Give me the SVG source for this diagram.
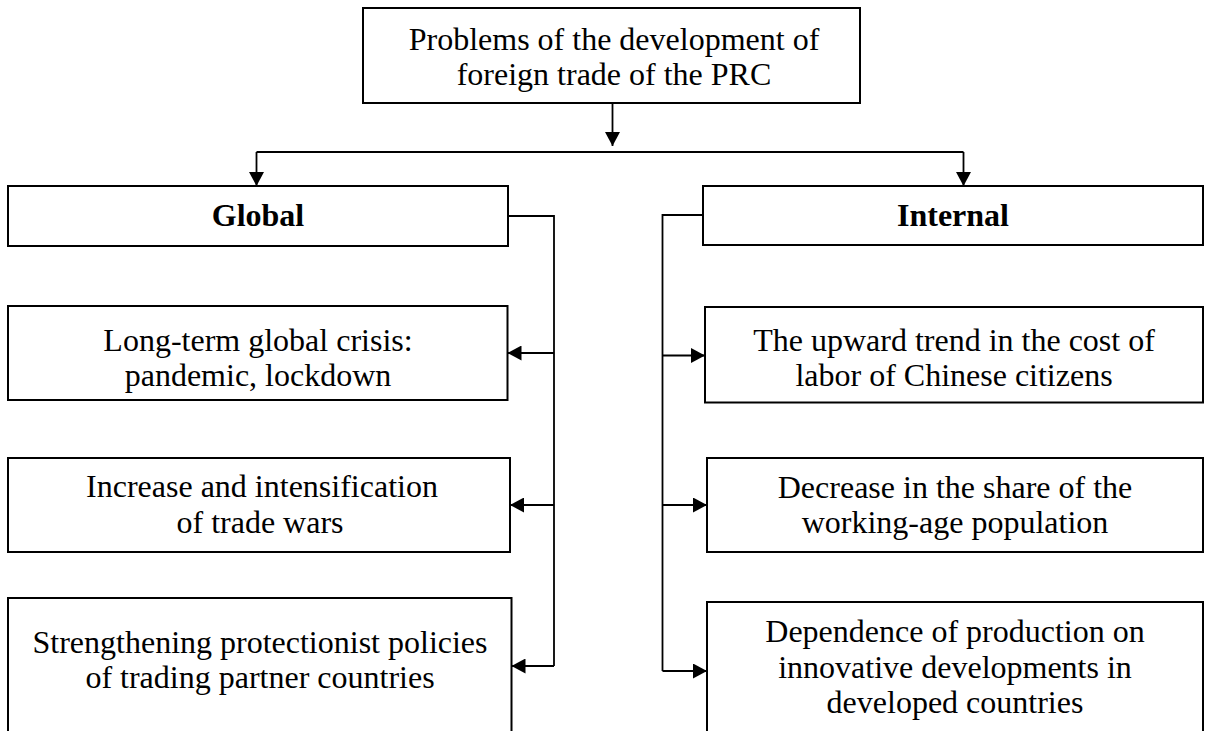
<svg xmlns="http://www.w3.org/2000/svg" width="1205" height="731" viewBox="0 0 1205 731">
<defs>
<marker id="arr" markerUnits="userSpaceOnUse" markerWidth="15" markerHeight="15" refX="14" refY="7.5" orient="auto">
<path d="M0,0 L14,7.5 L0,15 z" fill="#000"/>
</marker>
<style>
.box{fill:#fff;stroke:#000;stroke-width:2}
.t{font-family:"Liberation Serif","Times New Roman",serif;font-size:32px;fill:#000;text-anchor:middle}
.b{font-weight:bold}
.c{fill:none;stroke:#000;stroke-width:1.8}
</style>
</defs>
<rect width="1205" height="731" fill="#fff"/>
<g id="connectors">
<path class="c" d="M612.5,103 V146" marker-end="url(#arr)"/>
<path class="c" d="M256.5,152 H963.5"/>
<path class="c" d="M256.5,152 V186" marker-end="url(#arr)"/>
<path class="c" d="M963.5,152 V186" marker-end="url(#arr)"/>
<path class="c" d="M508,216 H554 V666"/>
<path class="c" d="M554,353 H507.5" marker-end="url(#arr)"/>
<path class="c" d="M554,505 H510" marker-end="url(#arr)"/>
<path class="c" d="M554,666 H511.5" marker-end="url(#arr)"/>
<path class="c" d="M703,215 H662.5 V671"/>
<path class="c" d="M662.5,355.5 H705" marker-end="url(#arr)"/>
<path class="c" d="M662.5,505 H707" marker-end="url(#arr)"/>
<path class="c" d="M662.5,671 H707" marker-end="url(#arr)"/>
</g>
<g id="root">
<rect class="box" x="363" y="8" width="497" height="95"/>
<text class="t" x="614" y="49.5">Problems of the development of</text>
<text class="t" x="614" y="85">foreign trade of the PRC</text>
</g>
<g id="global">
<rect class="box" x="8" y="186" width="500" height="60"/>
<text class="t b" x="258" y="226">Global</text>
</g>
<g id="internal">
<rect class="box" x="703" y="186" width="500" height="59"/>
<text class="t b" x="953" y="226">Internal</text>
</g>
<g id="g1">
<rect class="box" x="8" y="306" width="499.5" height="94"/>
<text class="t" x="258" y="351">Long-term global crisis:</text>
<text class="t" x="258" y="386">pandemic, lockdown</text>
</g>
<g id="g2">
<rect class="box" x="8" y="458" width="502" height="94"/>
<text class="t" x="262" y="497">Increase and intensification</text>
<text class="t" x="260" y="533">of trade wars</text>
</g>
<g id="g3">
<rect class="box" x="8" y="598" width="503.5" height="140"/>
<text class="t" x="260" y="653">Strengthening protectionist policies</text>
<text class="t" x="260" y="688">of trading partner countries</text>
</g>
<g id="i1">
<rect class="box" x="705" y="307" width="498" height="95.5"/>
<text class="t" x="954" y="351">The upward trend in the cost of</text>
<text class="t" x="954" y="386">labor of Chinese citizens</text>
</g>
<g id="i2">
<rect class="box" x="707" y="458" width="496" height="94"/>
<text class="t" x="955" y="498">Decrease in the share of the</text>
<text class="t" x="955" y="533">working-age population</text>
</g>
<g id="i3">
<rect class="box" x="707" y="602" width="496" height="140"/>
<text class="t" x="955" y="642">Dependence of production on</text>
<text class="t" x="955" y="678">innovative developments in</text>
<text class="t" x="955" y="713">developed countries</text>
</g>
</svg>
